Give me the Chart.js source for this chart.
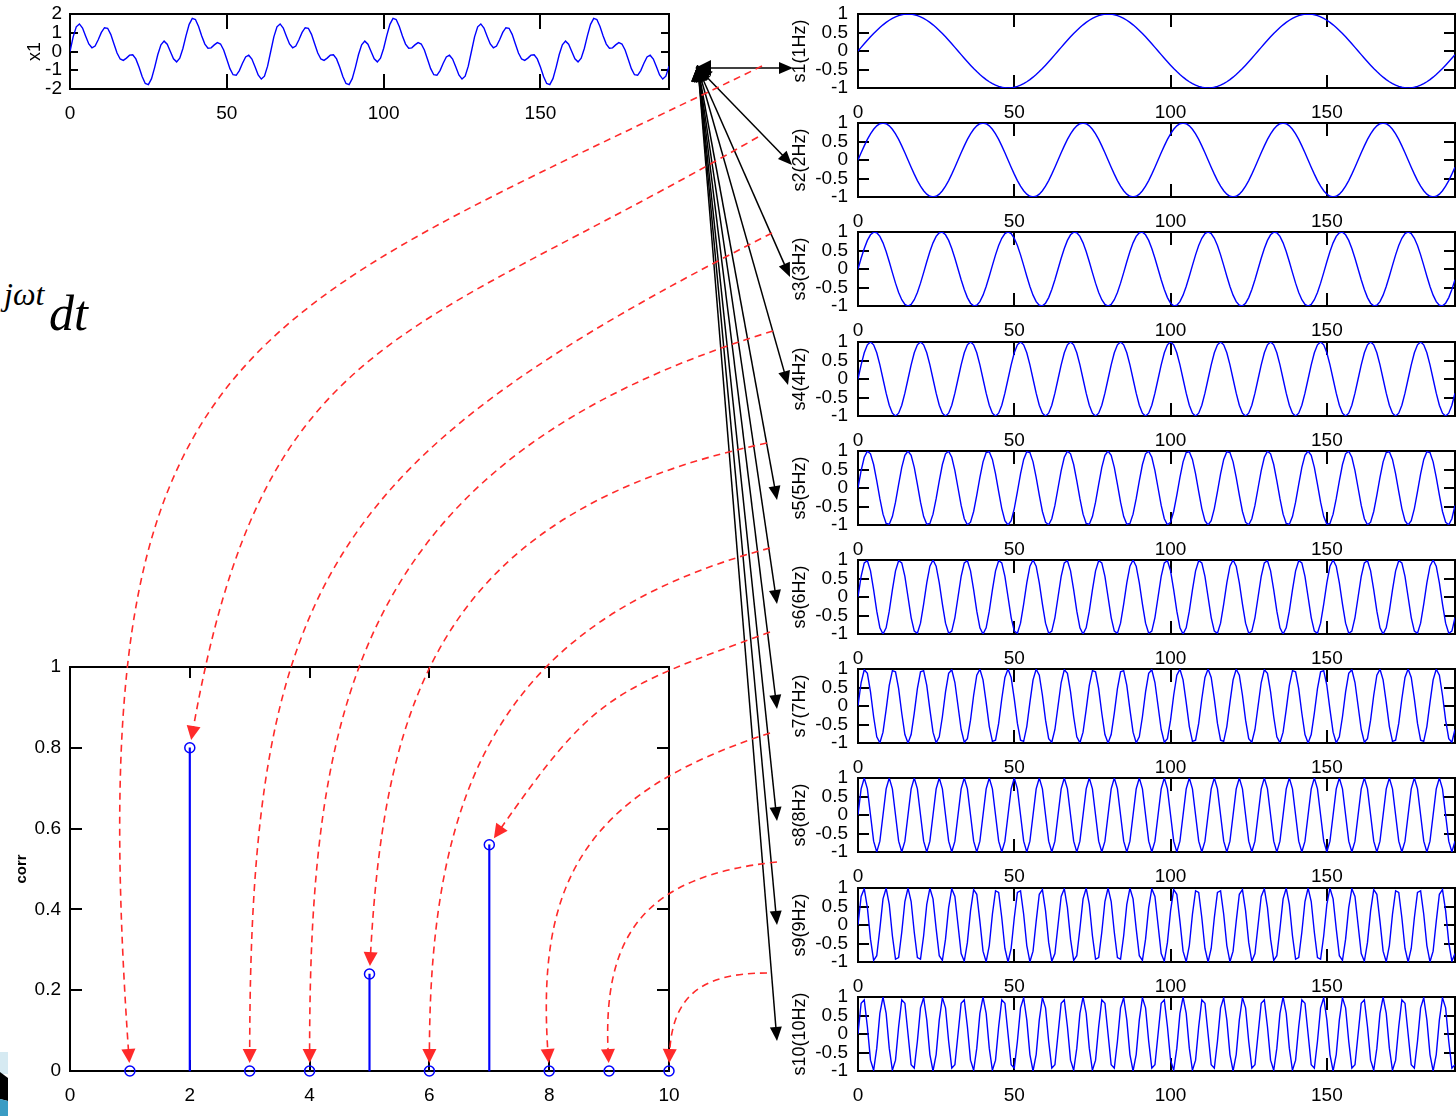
<!DOCTYPE html>
<html>
<head>
<meta charset="utf-8">
<script src="https://cdn.jsdelivr.net/npm/chart.js@4.4.0/dist/chart.umd.min.js"></script>
<style>
html, body { margin: 0; padding: 0; background: #fff; }
#page { position: relative; width: 1456px; height: 1116px; overflow: hidden; background: #fff; }
.plot { position: absolute; }
#overlay { position: absolute; left: 0; top: 0; z-index: 5; pointer-events: none; }
.formula { position: absolute; font-family: 'Liberation Serif', 'DejaVu Serif', serif; font-style: italic; line-height: 1; color: #000; white-space: nowrap; }
</style>
</head>
<body>
<div id="page">
  <div class="formula" style="left:4px;top:278px;font-size:32px;">jωt</div>
  <div class="formula" style="left:49px;top:288px;font-size:50px;">dt</div>
  <canvas id="overlay" width="1456" height="1116"></canvas>
</div>
<script>
// ---- data ----
const sampleCount = 192;   // samples 0..191
const sampleRate = 64;     // samples per second
const sigFreqs = [1, 2, 3, 4, 5, 6, 7, 8, 9, 10];
const sigLabels = ['s1(1Hz)', 's2(2Hz)', 's3(3Hz)', 's4(4Hz)', 's5(5Hz)',
                   's6(6Hz)', 's7(7Hz)', 's8(8Hz)', 's9(9Hz)', 's10(10Hz)'];
const mixFreqs = [2, 5, 7];          // components of x1
const mixAmps = [1, 0.3, 0.7];
const corrFreqs = [1, 2, 3, 4, 5, 6, 7, 8, 9, 10];
const corrValues = [0, 0.8, 0, 0, 0.24, 0, 0.56, 0, 0, 0];
const timeTicks = [0, 50, 100, 150];
const sigTicks = [-1, -0.5, 0, 0.5, 1];
const mixTicks = [-2, -1, 0, 1, 2];
const corrXTicks = [0, 2, 4, 6, 8, 10];
const corrYTicks = [0, 0.2, 0.4, 0.6, 0.8, 1];

// ---- annotation layout (arrows) ----
const fanOrigin = {x: 698, y: 68};
const fanTipGap = [65, 66, 68, 70, 81, 81, 81, 81, 81, 81];
const fanTipDy = [17, 5, 8, 6, 12, 7, 3, 6, 0, 7];
const redStarts = [
  {x: 762, y: 66, a: 26}, {x: 758, y: 137, a: 30}, {x: 772, y: 233, a: 27},
  {x: 773, y: 331, a: 17}, {x: 767, y: 443, a: 12}, {x: 770, y: 548, a: 15},
  {x: 770, y: 632, a: 20}, {x: 770, y: 733, a: 18}, {x: 777, y: 862, a: 6},
  {x: 767, y: 973, a: 0}
];
const redEndAng = [4, -10, 0, 0, -3, 0, -35, 4, 3, -2];
const redBend = [[0.5, 0.62], [0.5, 0.5], [0.5, 0.5], [0.5, 0.42], [0.5, 0.42],
                 [0.45, 0.45], [0.5, 0.5], [0.5, 0.45], [0.5, 0.5], [0.5, 0.5]];

const FONT = "'Liberation Sans', Arial, Helvetica, sans-serif";
Chart.defaults.font.family = FONT;
Chart.defaults.color = '#000';

const page = document.getElementById('page');
const overlay = document.getElementById('overlay');

function signal(freq) {
  const pts = [];
  for (let i = 0; i < sampleCount; i++) {
    pts.push({x: i, y: Math.sin(2 * Math.PI * freq * i / sampleRate)});
  }
  return pts;
}

function mixture() {
  const pts = [];
  for (let i = 0; i < sampleCount; i++) {
    let v = 0;
    mixFreqs.forEach((f, j) => { v += mixAmps[j] * Math.sin(2 * Math.PI * f * i / sampleRate); });
    pts.push({x: i, y: v});
  }
  return pts;
}

// box frame + inward ticks on all four sides (matlab style)
const framePlugin = {
  id: 'frame',
  defaults: {xLen: 12, yLen: 10},
  beforeDatasetsDraw(chart, args, o) {
    const {ctx, chartArea: a, scales} = chart;
    ctx.save();
    ctx.strokeStyle = '#000';
    ctx.lineWidth = 2;
    ctx.beginPath();
    scales.x.ticks.forEach(t => {
      const px = Math.round(scales.x.getPixelForValue(t.value));
      ctx.moveTo(px, a.bottom); ctx.lineTo(px, a.bottom - o.xLen);
      ctx.moveTo(px, a.top); ctx.lineTo(px, a.top + o.xLen);
    });
    scales.y.ticks.forEach(t => {
      const py = Math.round(scales.y.getPixelForValue(t.value));
      ctx.moveTo(a.left, py); ctx.lineTo(a.left + o.yLen, py);
      ctx.moveTo(a.right, py); ctx.lineTo(a.right - o.yLen, py);
    });
    ctx.stroke();
    ctx.strokeRect(a.left, a.top, a.right - a.left, a.bottom - a.top);
    ctx.restore();
  }
};
Chart.register(framePlugin);

function makePlot(p) {
  const m = p.margin;
  const left = p.box.l - m.l, top = p.box.t - m.t;
  const w = p.box.r - p.box.l + m.l + m.r, h = p.box.b - p.box.t + m.t + m.b;
  const div = document.createElement('div');
  div.className = 'plot';
  div.style.left = left + 'px';
  div.style.top = top + 'px';
  div.style.width = w + 'px';
  div.style.height = h + 'px';
  const cv = document.createElement('canvas');
  cv.width = w; cv.height = h;
  cv.style.width = w + 'px'; cv.style.height = h + 'px';
  div.appendChild(cv);
  page.insertBefore(div, overlay);

  const chart = new Chart(cv, {
    type: p.type || 'line',
    data: {datasets: p.datasets},
    options: {
      responsive: false,
      animation: false,
      devicePixelRatio: 1,
      events: [],
      layout: {padding: {top: m.t, right: m.r, left: 0, bottom: 0}},
      plugins: {legend: {display: false}, tooltip: {enabled: false}, frame: p.frame},
      scales: {
        x: {
          type: 'linear', position: 'bottom', min: p.x.min, max: p.x.max, offset: false,
          grid: {display: false, drawTicks: false}, border: {display: false},
          afterBuildTicks: s => { s.ticks = p.x.ticks.map(v => ({value: v})); },
          afterFit: s => { s.height = m.b; s.paddingLeft = 0; s.paddingRight = 0; },
          ticks: {font: {size: 19}, color: '#000', padding: p.x.pad, maxRotation: 0, autoSkip: false,
                  callback: v => String(v)}
        },
        y: {
          type: 'linear', position: 'left', min: p.y.min, max: p.y.max,
          grid: {display: false, drawTicks: false}, border: {display: false},
          afterBuildTicks: s => { s.ticks = p.y.ticks.map(v => ({value: v})); },
          afterFit: s => { s.width = m.l; s.paddingTop = 0; s.paddingBottom = 0; },
          ticks: {font: {size: 19}, color: '#000', padding: p.y.pad, autoSkip: false,
                  callback: v => String(v)},
          title: {display: true, text: p.y.title, color: '#000', font: p.y.titleFont,
                  padding: {top: p.y.titlePad, bottom: 0}}
        }
      }
    }
  });
  chart.$left = left;
  chart.$top = top;
  return chart;
}

const lineStyle = {borderColor: '#0000ff', borderWidth: 1.4, pointRadius: 0, tension: 0};

// x1 (top left)
const mixChart = makePlot({
  box: {l: 70, t: 14, r: 669, b: 89},
  margin: {l: 70, t: 14, r: 10, b: 40},
  x: {min: 0, max: sampleCount - 1, ticks: timeTicks, pad: 13},
  y: {min: -2, max: 2, ticks: mixTicks, pad: 8, title: 'x1', titleFont: {size: 18}, titlePad: 24},
  frame: {xLen: 15, yLen: 8},
  datasets: [Object.assign({data: mixture()}, lineStyle)]
});

// s1..s10 (right column)
const sigCharts = sigFreqs.map((f, k) => makePlot({
  box: {l: 858, t: Math.round(14 + 109.2 * k), r: 1455, b: Math.round(88 + 109.2 * k)},
  margin: {l: 75, t: 12, r: 1, b: 36},
  x: {min: 0, max: sampleCount - 1, ticks: timeTicks, pad: 13},
  y: {min: -1, max: 1, ticks: sigTicks, pad: 10, title: sigLabels[k], titleFont: {size: 18}, titlePad: 6},
  frame: {xLen: 13, yLen: 11},
  datasets: [Object.assign({data: signal(f)}, lineStyle)]
}));

// correlation stem plot (bottom left)
const corrPts = corrFreqs.map((f, i) => ({x: f, y: corrValues[i]}));
const corrChart = makePlot({
  type: 'bar',
  box: {l: 70, t: 667, r: 669, b: 1071},
  margin: {l: 70, t: 14, r: 12, b: 40},
  x: {min: 0, max: 10, ticks: corrXTicks, pad: 13},
  y: {min: 0, max: 1, ticks: corrYTicks, pad: 9, title: 'corr', titleFont: {size: 15, weight: 'bold'}, titlePad: 13},
  frame: {xLen: 11, yLen: 12},
  datasets: [
    {type: 'line', data: corrPts, showLine: false, pointRadius: 5, pointStyle: 'circle',
     pointBorderColor: '#0000ff', pointBackgroundColor: 'rgba(0,0,0,0)', pointBorderWidth: 1.5, clip: false},
    {type: 'bar', data: corrPts, backgroundColor: '#0000ff', barThickness: 1.5, clip: false}
  ]
});

// ---- overlay: arrows and slide decoration ----
const ctx = overlay.getContext('2d');

function arrowHead(tip, dir, len, half, color) {
  const bx = tip.x - dir.x * len, by = tip.y - dir.y * len;
  ctx.beginPath();
  ctx.moveTo(tip.x, tip.y);
  ctx.lineTo(bx - dir.y * half, by + dir.x * half);
  ctx.lineTo(bx + dir.y * half, by - dir.x * half);
  ctx.closePath();
  ctx.fillStyle = color;
  ctx.fill();
}

function unit(dx, dy) {
  const d = Math.hypot(dx, dy) || 1;
  return {x: dx / d, y: dy / d};
}

// black fan from x1 to each basis signal
sigCharts.forEach((c, k) => {
  const a = c.chartArea;
  const tip = {x: c.$left + a.left - fanTipGap[k], y: c.$top + (a.top + a.bottom) / 2 + fanTipDy[k]};
  const dir = unit(tip.x - fanOrigin.x, tip.y - fanOrigin.y);
  ctx.save();
  ctx.strokeStyle = '#000';
  ctx.lineWidth = 1.5;
  ctx.beginPath();
  ctx.moveTo(fanOrigin.x, fanOrigin.y);
  ctx.lineTo(tip.x - dir.x * 10, tip.y - dir.y * 10);
  ctx.stroke();
  ctx.restore();
  arrowHead(tip, dir, 14, 6, '#000');
  arrowHead({x: fanOrigin.x - dir.x * 3, y: fanOrigin.y - dir.y * 3}, {x: -dir.x, y: -dir.y}, 16, 8, '#000');
});

// red dashed curves from each basis signal to its correlation value
const redColor = '#ff2a2a';
corrFreqs.forEach((f, i) => {
  const s = redStarts[i];
  const ang = redEndAng[i] * Math.PI / 180;
  const endDir = {x: Math.sin(ang), y: Math.cos(ang)};
  const mx = corrChart.$left + corrChart.scales.x.getPixelForValue(f);
  const my = corrChart.$top + corrChart.scales.y.getPixelForValue(corrValues[i]);
  const tip = {x: mx - endDir.x * 8, y: my - endDir.y * 8};
  const dist = Math.hypot(tip.x - s.x, tip.y - s.y);
  const a0 = s.a * Math.PI / 180;
  const [c1, c2] = redBend[i];
  const p1 = {x: s.x - c1 * dist * Math.cos(a0), y: s.y + c1 * dist * Math.sin(a0)};
  const p2 = {x: tip.x - c2 * dist * endDir.x, y: tip.y - c2 * dist * endDir.y};
  ctx.save();
  ctx.strokeStyle = redColor;
  ctx.lineWidth = 1.6;
  ctx.setLineDash([7, 5]);
  ctx.beginPath();
  ctx.moveTo(s.x, s.y);
  ctx.bezierCurveTo(p1.x, p1.y, p2.x, p2.y, tip.x - endDir.x * 8, tip.y - endDir.y * 8);
  ctx.stroke();
  ctx.restore();
  arrowHead(tip, endDir, 14, 7, redColor);
});

// slide graphic corner (bottom left)
ctx.fillStyle = '#d6eaf2';
ctx.fillRect(0, 1052, 8, 22);
ctx.fillStyle = '#000';
ctx.beginPath();
ctx.moveTo(0, 1072); ctx.lineTo(8, 1078); ctx.lineTo(8, 1101); ctx.lineTo(0, 1099);
ctx.closePath(); ctx.fill();
ctx.fillStyle = '#3a9cc4';
ctx.beginPath();
ctx.moveTo(0, 1099); ctx.lineTo(8, 1101); ctx.lineTo(8, 1116); ctx.lineTo(0, 1116);
ctx.closePath(); ctx.fill();
</script>
</body>
</html>
